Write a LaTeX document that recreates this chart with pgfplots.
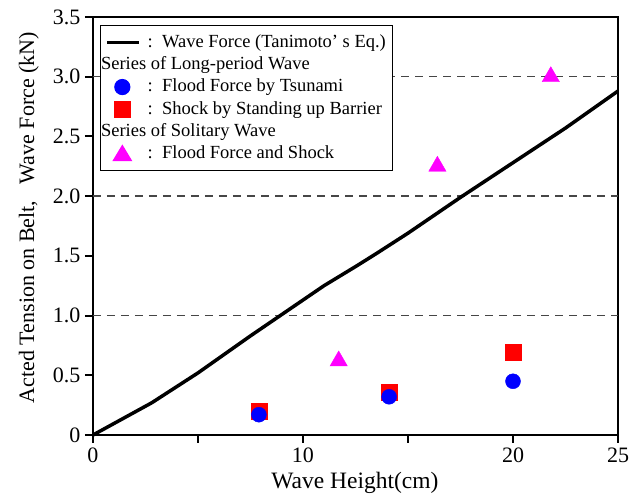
\documentclass[border=0pt]{standalone}
\usepackage{pgfplots}
\pgfplotsset{compat=1.18}
\usepackage{fontspec}
\setmainfont{Liberation Serif}
\usetikzlibrary{calc}
\definecolor{mag}{RGB}{255,0,255}
\definecolor{dgray}{RGB}{70,70,70}
\begin{document}
\begin{tikzpicture}
\begin{axis}[
  name=ax,
  scale only axis, width=525pt, height=418pt,
  xmin=0, xmax=25, ymin=0, ymax=3.5,
  xtick={0,5,10,15,20,25}, xticklabels={0,,10,,20,25},
  ytick={0,0.5,1,1.5,2,2.5,3,3.5},
  yticklabels={0,0.5,1.0,1.5,2.0,2.5,3.0,3.5},
  xtick pos=bottom, ytick pos=left,
  tick align=outside, major tick length=8pt,
  tick style={line width=2pt, black},
  axis line style={line width=2.5pt},
  /pgf/number format/assume math mode=true,
  ticklabel style={font=\fontsize{22}{22}\selectfont},
  xticklabel style={yshift=-1pt},
  yticklabel style={xshift=-1pt},
  xlabel={Wave Height(cm)},
  ylabel={Acted Tension on Belt,\ \ \ Wave Force (kN)},
  xlabel style={font=\fontsize{23.5}{23.5}\selectfont, at={(axis description cs:0.499,-0.115)}, anchor=center},
  ylabel style={font=\fontsize{22}{22}\selectfont, at={(axis description cs:-0.122,0.52)}, anchor=center},
  clip=false,
  legend cell align=left,
  legend style={at={(0.0133,0.981)}, anchor=north west, draw=black,
    line width=1.2pt, font=\fontsize{18.5}{21}\selectfont,
    inner xsep=5pt, inner ysep=6pt, row sep=0pt,
    nodes={inner ysep=2pt, text height=14pt, text depth=4.2pt}},
]
% grid dashed lines
\addplot[forget plot, dgray, line width=1.5pt, dash pattern=on 8pt off 6pt] coordinates {(0,1) (25,1)};
\addplot[forget plot, dgray, line width=1.5pt, dash pattern=on 8pt off 6pt] coordinates {(0,2) (25,2)};
\addplot[forget plot, dgray, line width=1.5pt, dash pattern=on 8pt off 6pt] coordinates {(0,3) (25,3)};
% Tanimoto line
\addplot[forget plot, black, line width=3.5pt, line join=round] coordinates {
 (0,0) (2.8,0.27) (5,0.52) (7.5,0.83) (10,1.13) (11,1.25) (12.5,1.41) (13.5,1.52)
 (15,1.69) (17.5,1.99) (20,2.28) (22.5,2.57) (25,2.88)};
% squares
\addplot[forget plot, only marks, mark=square*, mark size=8pt, red, mark options={draw=none, fill=red}] coordinates {
 (7.9,0.20) (14.1,0.36) (20.0,0.69)};
% circles
\addplot[forget plot, only marks, mark=*, mark size=7.5pt, blue, mark options={draw=none, fill=blue}] coordinates {
 (7.9,0.17) (14.1,0.32) (20.0,0.45)};
% triangles
\addplot[forget plot, only marks, mark=triangle*, mark size=10pt, mag, mark options={draw=none, fill=mag}] coordinates {
 (11.7,0.62) (16.4,2.25) (21.8,3.00)};
% legend
\addlegendimage{legend image code/.code={\draw[black, line width=3.5pt] (0pt,0pt) -- (32pt,0pt);}}
\addlegendentry{\ :\ \ Wave Force (Tanimoto’\ s Eq.)}
\addlegendimage{empty legend}
\addlegendentry{\hspace*{-42pt}Series of Long-period Wave}
\addlegendimage{legend image code/.code={\fill[blue] (15pt,0pt) circle (7.5pt);}}
\addlegendentry{\ :\ \ Flood Force by Tsunami}
\addlegendimage{legend image code/.code={\fill[red] (7pt,-8pt) rectangle (23pt,8pt);}}
\addlegendentry{\ :\ \ Shock by Standing up Barrier}
\addlegendimage{empty legend}
\addlegendentry{\hspace*{-42pt}Series of Solitary Wave}
\addlegendimage{legend image code/.code={\fill[mag] (15pt,8pt) -- (24pt,-7pt) -- (6pt,-7pt) -- cycle;}}
\addlegendentry{\ :\ \ Flood Force and Shock}
\end{axis}
\pgfresetboundingbox
\path ($(ax.south west)+(-93pt,-62pt)$) rectangle ($(ax.north east)+(14pt,17pt)$);
\end{tikzpicture}
\end{document}
